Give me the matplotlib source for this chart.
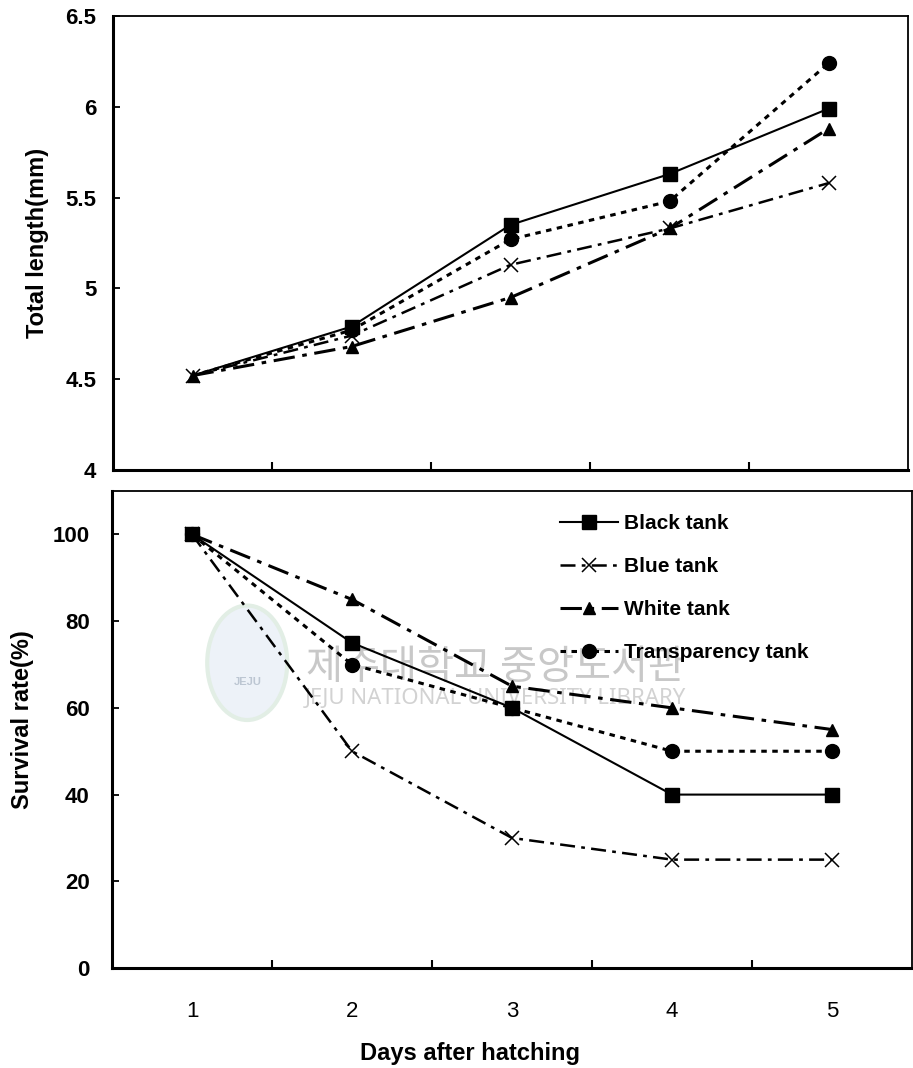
import matplotlib
matplotlib.use("Agg")
import matplotlib.pyplot as plt
from matplotlib.patches import Ellipse
from matplotlib.ticker import FixedLocator, FormatStrFormatter

plt.rcParams['font.family'] = ['Liberation Sans', 'DejaVu Sans']

# Data
days = [1, 2, 3, 4, 5]
day_labels = ['1', '2', '3', '4', '5']
series = ['Black tank', 'Blue tank', 'White tank', 'Transparency tank']

length_black = [4.52, 4.79, 5.35, 5.63, 5.99]
length_blue = [4.52, 4.74, 5.13, 5.33, 5.58]
length_white = [4.52, 4.68, 4.95, 5.33, 5.88]
length_transp = [4.52, 4.77, 5.27, 5.48, 6.24]

surv_black = [100, 75, 60, 40, 40]
surv_blue = [100, 50, 30, 25, 25]
surv_white = [100, 85, 65, 60, 55]
surv_transp = [100, 70, 60, 50, 50]

# line styles (colour black for all)
styles = {
    'Black tank': dict(ls='-', lw=1.5, marker='s', ms=9.5, mew=1),
    'Blue tank': dict(ls=(0, (6, 2.5, 1.5, 2.5)), lw=1.8, marker='x', ms=10, mew=1.1),
    'White tank': dict(ls=(0, (7, 2.5, 1.5, 2.5)), lw=2.2, marker='^', ms=9, mew=1),
    'Transparency tank': dict(ls=(0, (1.8, 1.8)), lw=2.2, marker='o', ms=10, mew=1),
}
# in the top panel only the x and triangle show at day 1
top_markevery = {
    'Black tank': [1, 2, 3, 4],
    'Blue tank': None,
    'White tank': None,
    'Transparency tank': [1, 2, 3, 4],
}

fig = plt.figure(figsize=(9.13, 10.68), dpi=100)
ax1 = fig.add_axes([0.1238, 0.5599, 0.8708, 0.4251])
ax2 = fig.add_axes([0.1227, 0.0936, 0.8762, 0.4466])

for name, vals in zip(series, [length_black, length_blue, length_white, length_transp]):
    ax1.plot(days, vals, color='black', label=name, markevery=top_markevery[name],
             **styles[name])
for name, vals in zip(series, [surv_black, surv_blue, surv_white, surv_transp]):
    ax2.plot(days, vals, color='black', label=name, **styles[name])

# axes formatting
for ax in (ax1, ax2):
    ax.set_xlim(0.5, 5.5)
    ax.xaxis.set_major_locator(FixedLocator(days))
    ax.xaxis.set_minor_locator(FixedLocator([1.5, 2.5, 3.5, 4.5]))
    ax.tick_params(axis='x', which='major', length=0)
    ax.tick_params(axis='x', which='minor', direction='in', length=6, width=1.5)
    ax.tick_params(axis='y', which='major', direction='in', length=5, width=1.3)
    ax.spines['left'].set_linewidth(2.2)
    ax.spines['bottom'].set_linewidth(2.2)
    ax.spines['top'].set_linewidth(1.3)
    ax.spines['right'].set_linewidth(1.3)

ax1.set_ylim(4, 6.5)
ax1.set_yticks([4, 4.5, 5, 5.5, 6, 6.5])
ax1.yaxis.set_major_formatter(FormatStrFormatter('%g'))
ax1.tick_params(axis='x', which='major', labelbottom=False)
ax1.tick_params(axis='y', labelsize=16, pad=12)
for lab in ax1.get_yticklabels():
    lab.set_fontweight('bold')
ax1.set_ylabel('Total length(mm)', fontsize=17, fontweight='bold')
ax1.yaxis.set_label_coords(-0.08, 0.5)

ax2.set_ylim(0, 110)
ax2.set_yticks([0, 20, 40, 60, 80, 100])
ax2.set_xticklabels(day_labels)
ax2.tick_params(axis='x', which='major', labelsize=16, pad=24)
ax2.tick_params(axis='y', labelsize=16, pad=16)
for lab in ax2.get_yticklabels():
    lab.set_fontweight('bold')
ax2.set_ylabel('Survival rate(%)', fontsize=17, fontweight='bold')
ax2.yaxis.set_label_coords(-0.0975, 0.52)
ax2.set_xlabel('Days after hatching', fontsize=17, fontweight='bold')
ax2.xaxis.set_label_coords(0.447, -0.155)

# faint library watermark
ax2.add_patch(Ellipse((0.169, 0.64), 0.1, 0.24, transform=ax2.transAxes,
                      facecolor='#edf2f8', edgecolor='#e2eee5', lw=3, zorder=0))
ax2.text(0.169, 0.6, 'JEJU', transform=ax2.transAxes, fontsize=8,
         color='#bcc6d2', ha='center', va='center', zorder=0, fontweight='bold')
ax2.text(0.479, 0.63, '제주대학교 중앙도서관', transform=ax2.transAxes,
         fontsize=29, color='#c8c8c8', ha='center', va='center', zorder=0,
         family=['Noto Sans CJK KR', 'DejaVu Sans'])
ax2.text(0.479, 0.566, 'JEJU NATIONAL UNIVERSITY LIBRARY', transform=ax2.transAxes,
         fontsize=16, color='#d2d2d2', ha='center', va='center', zorder=0,
         family=['Noto Sans', 'DejaVu Sans'])

leg = ax2.legend(loc='upper left', bbox_to_anchor=(0.56, 0.952), frameon=False,
                 fontsize=15, handlelength=2.8, handletextpad=0.25,
                 labelspacing=1.16, borderpad=0, borderaxespad=0)
for t in leg.get_texts():
    t.set_fontweight('bold')

fig.savefig('out.png', dpi=100)
